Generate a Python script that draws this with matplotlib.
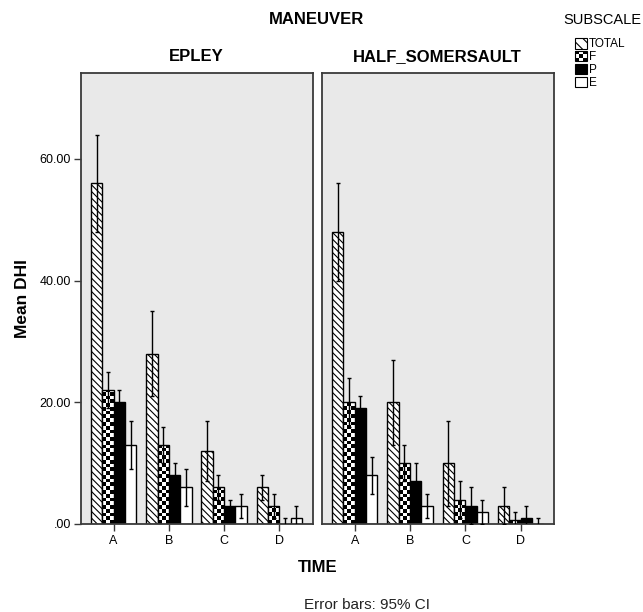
import numpy as np
import matplotlib
matplotlib.use('Agg')
import matplotlib.pyplot as plt
from matplotlib.patches import Rectangle
from matplotlib.legend_handler import HandlerBase

plt.rcParams['font.family'] = ['Liberation Sans', 'DejaVu Sans']
plt.rcParams['hatch.linewidth'] = 0.8

times = ['A', 'B', 'C', 'D']
maneuvers = ['EPLEY', 'HALF_SOMERSAULT']
subscales = ['TOTAL', 'F', 'P', 'E']

# mean DHI per subscale, one list per maneuver
epley_total = [56, 28, 12, 6]
epley_f = [22, 13, 6, 3]
epley_p = [20, 8, 3, 0]
epley_e = [13, 6, 3, 1]
half_total = [48, 20, 10, 3]
half_f = [20, 10, 4, 0.6]
half_p = [19, 7, 3, 1]
half_e = [8, 3, 2, 0]

# half width of the 95% CI
epley_total_ci = [8, 7, 5, 2]
epley_f_ci = [3, 3, 2, 2]
epley_p_ci = [2, 2, 1, 1]
epley_e_ci = [4, 3, 2, 2]
half_total_ci = [8, 7, 7, 3]
half_f_ci = [4, 3, 3, 1.4]
half_p_ci = [2, 3, 3, 2]
half_e_ci = [3, 2, 2, 1]

means = {
    'EPLEY': [epley_total, epley_f, epley_p, epley_e],
    'HALF_SOMERSAULT': [half_total, half_f, half_p, half_e],
}
cis = {
    'EPLEY': [epley_total_ci, epley_f_ci, epley_p_ci, epley_e_ci],
    'HALF_SOMERSAULT': [half_total_ci, half_f_ci, half_p_ci, half_e_ci],
}

W, H = 643, 612
fig = plt.figure(figsize=(W / 100, H / 100), dpi=100)
bottom_px, top_px = 524, 72.5
panels = [(80.5, 312.5), (321.5, 554)]
ymax = 74.2
bar_w = 0.205
x = np.arange(len(times))
frame_col = '#3a3a3a'
bg_col = '#e9e9e9'


def checker_fill(ax, rect, ncols=3):
    px_x = ax.bbox.width / (ax.get_xlim()[1] - ax.get_xlim()[0])
    px_y = ax.bbox.height / (ax.get_ylim()[1] - ax.get_ylim()[0])
    w = rect.get_width()
    h = rect.get_height()
    if h <= 0:
        return
    cell_h = (w * px_x / ncols) / px_y
    nrows = int(np.ceil(h / cell_h))
    board = (np.add.outer(np.arange(nrows), np.arange(ncols)) % 2).astype(float)
    x0 = rect.get_x()
    im = ax.imshow(board, cmap='gray', vmin=0, vmax=1, origin='lower',
                   extent=(x0, x0 + w, 0, nrows * cell_h), aspect='auto',
                   interpolation='nearest', zorder=2.1)
    im.set_clip_path(rect)


axes = []
for k, man in enumerate(maneuvers):
    l, r = panels[k]
    ax = fig.add_axes([l / W, 1 - bottom_px / H, (r - l) / W, (bottom_px - top_px) / H])
    axes.append(ax)
    ax.set_facecolor(bg_col)
    ax.set_xlim(-0.6, 3.6)
    ax.set_ylim(0, ymax)
    for s in ax.spines.values():
        s.set_color(frame_col)
        s.set_linewidth(1.3)

    offsets = (np.arange(4) - 1.5) * bar_w
    for j, sub in enumerate(subscales):
        vals = means[man][j]
        errs = cis[man][j]
        pos = x + offsets[j]
        if sub == 'TOTAL':
            ax.bar(pos, vals, bar_w, facecolor='white', edgecolor='black',
                   hatch='\\\\\\\\\\', linewidth=1, zorder=2)
        elif sub == 'F':
            bars = ax.bar(pos, vals, bar_w, facecolor='white', edgecolor='none', zorder=2)
            for b in bars:
                checker_fill(ax, b)
            ax.bar(pos, vals, bar_w, fill=False, edgecolor='black', linewidth=1, zorder=2.2)
        elif sub == 'P':
            ax.bar(pos, vals, bar_w, facecolor='black', edgecolor='black', linewidth=1, zorder=2)
        else:
            ax.bar(pos, vals, bar_w, facecolor='white', edgecolor='black', linewidth=1, zorder=2)
        ax.errorbar(pos, vals, yerr=errs, fmt='none', ecolor='black', elinewidth=1,
                    capsize=1.5, capthick=1, zorder=3, clip_on=True)

    ax.set_xlim(-0.6, 3.6)
    ax.set_ylim(0, ymax)
    ax.set_xticks(x)
    ax.set_xticklabels(times, fontsize=9)
    ax.tick_params(axis='x', length=5, width=1, color=frame_col, pad=3)
    if k == 0:
        ax.set_yticks([0, 20, 40, 60])
        ax.set_yticklabels(['.00', '20.00', '40.00', '60.00'], fontsize=9)
        ax.tick_params(axis='y', length=5, width=1, color=frame_col, pad=2)
        ax.set_ylabel('Mean DHI', fontsize=12.5, fontweight='bold', labelpad=7)
    else:
        ax.set_yticks([])
    ax.set_title(man, fontsize=12, fontweight='bold', pad=8)

fig.text(317 / W, 1 - 20 / H, 'MANEUVER', ha='center', va='center', fontsize=12, fontweight='bold')
fig.text(318 / W, 1 - 568 / H, 'TIME', ha='center', va='center', fontsize=12, fontweight='bold')
fig.text(367 / W, 1 - 605 / H, 'Error bars: 95% CI', ha='center', va='center', fontsize=11,
         color='#222222')
fig.text(563 / W, 1 - 20 / H, 'SUBSCALE', ha='left', va='center', fontsize=10.5)


class CheckerHandler(HandlerBase):
    def create_artists(self, legend, orig_handle, xdescent, ydescent, width, height,
                       fontsize, trans):
        arts = [Rectangle((-xdescent, -ydescent), width, height, facecolor='white',
                          edgecolor='black', lw=0.8, transform=trans)]
        n = 3
        cw, ch = width / n, height / n
        for i in range(n):
            for j in range(n):
                if (i + j) % 2 == 0:
                    arts.append(Rectangle((-xdescent + i * cw, -ydescent + j * ch), cw, ch,
                                          facecolor='black', edgecolor='none', transform=trans))
        return arts


h_total = Rectangle((0, 0), 1, 1, facecolor='white', edgecolor='black', hatch='\\\\\\', lw=0.8)
h_f = Rectangle((0, 0), 1, 1, facecolor='white', edgecolor='black')
h_p = Rectangle((0, 0), 1, 1, facecolor='black', edgecolor='black', lw=0.8)
h_e = Rectangle((0, 0), 1, 1, facecolor='white', edgecolor='black', lw=0.8)
fig.legend([h_total, h_f, h_p, h_e], subscales, loc='upper left',
           bbox_to_anchor=(575 / W, 1 - 38 / H), frameon=False, fontsize=8.5,
           handlelength=1.0, handleheight=1.0, handletextpad=0.15, labelspacing=0.05,
           borderpad=0, borderaxespad=0, handler_map={h_f: CheckerHandler()})

fig.savefig('out.png', dpi=100)
